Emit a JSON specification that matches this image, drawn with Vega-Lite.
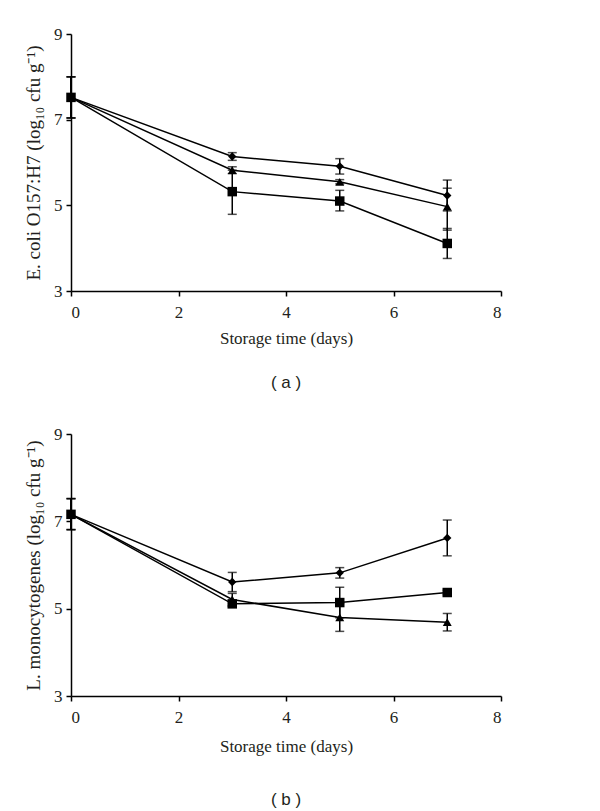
{
  "$schema": "https://vega.github.io/schema/vega-lite/v6.json",
  "background": "white",
  "padding": {"left": 24, "top": 25, "right": 10, "bottom": 5},
  "spacing": 34,
  "data": {
    "values": [
      {"panel": "a", "series": "D", "day": 0, "value": 7.52, "lo": 7.04, "hi": 8.0},
      {"panel": "a", "series": "D", "day": 3, "value": 6.14, "lo": 6.05, "hi": 6.23},
      {"panel": "a", "series": "D", "day": 5, "value": 5.91, "lo": 5.73, "hi": 6.09},
      {"panel": "a", "series": "D", "day": 7, "value": 5.23, "lo": 4.87, "hi": 5.59},
      {"panel": "a", "series": "T", "day": 0, "value": 7.52, "lo": 7.04, "hi": 8.0},
      {"panel": "a", "series": "T", "day": 3, "value": 5.82, "lo": 5.74, "hi": 5.9},
      {"panel": "a", "series": "T", "day": 5, "value": 5.55, "lo": 5.5, "hi": 5.6},
      {"panel": "a", "series": "T", "day": 7, "value": 4.97, "lo": 4.42, "hi": 5.4},
      {"panel": "a", "series": "S", "day": 0, "value": 7.52, "lo": 7.04, "hi": 8.0},
      {"panel": "a", "series": "S", "day": 3, "value": 5.32, "lo": 4.79, "hi": 5.82},
      {"panel": "a", "series": "S", "day": 5, "value": 5.1, "lo": 4.87, "hi": 5.35},
      {"panel": "a", "series": "S", "day": 7, "value": 4.11, "lo": 3.76, "hi": 4.46},
      {"panel": "b", "series": "D", "day": 0, "value": 7.16, "lo": 6.81, "hi": 7.52},
      {"panel": "b", "series": "D", "day": 3, "value": 5.61, "lo": 5.39, "hi": 5.83},
      {"panel": "b", "series": "D", "day": 5, "value": 5.82, "lo": 5.7, "hi": 5.94},
      {"panel": "b", "series": "D", "day": 7, "value": 6.62, "lo": 6.21, "hi": 7.03},
      {"panel": "b", "series": "T", "day": 0, "value": 7.16, "lo": 6.81, "hi": 7.52},
      {"panel": "b", "series": "T", "day": 3, "value": 5.21, "lo": 5.07, "hi": 5.35},
      {"panel": "b", "series": "T", "day": 5, "value": 4.8, "lo": 4.48, "hi": 5.12},
      {"panel": "b", "series": "T", "day": 7, "value": 4.69, "lo": 4.49, "hi": 4.89},
      {"panel": "b", "series": "S", "day": 0, "value": 7.16, "lo": 6.81, "hi": 7.52},
      {"panel": "b", "series": "S", "day": 3, "value": 5.11, "lo": 5.05, "hi": 5.17},
      {"panel": "b", "series": "S", "day": 5, "value": 5.14, "lo": 4.79, "hi": 5.49},
      {"panel": "b", "series": "S", "day": 7, "value": 5.37, "lo": 5.32, "hi": 5.42}
    ]
  },
  "vconcat": [
    {
      "width": 430,
      "height": 257,
      "transform": [{"filter": "datum.panel == 'a'"}],
      "title": {"text": "( a )", "orient": "bottom", "offset": 29},
      "encoding": {
        "x": {"field": "day", "type": "quantitative", "scale": {"domain": [0, 8]}, "axis": {"values": [0, 2, 4, 6, 8], "title": "Storage time (days)", "labelPadding": 8}}
      },
      "layer": [
        {"mark": {"type": "rule", "color": "black", "strokeWidth": 1.5}, "encoding": {"y": {"field": "lo", "type": "quantitative", "scale": {"domain": [3, 9]}, "axis": {"values": [3, 5, 7, 9], "title": "E. coli O157:H7 (log₁₀ cfu g⁻¹)", "titleFontSize": 19}}, "y2": {"field": "hi"}, "detail": {"field": "series"}}},
        {"mark": {"type": "tick", "orient": "horizontal", "color": "black", "size": 9, "thickness": 1.5}, "encoding": {"y": {"field": "lo", "type": "quantitative"}, "detail": {"field": "series"}}},
        {"mark": {"type": "tick", "orient": "horizontal", "color": "black", "size": 9, "thickness": 1.5}, "encoding": {"y": {"field": "hi", "type": "quantitative"}, "detail": {"field": "series"}}},
        {"mark": {"type": "line", "color": "black", "strokeWidth": 1.5}, "encoding": {"y": {"field": "value", "type": "quantitative"}, "detail": {"field": "series"}}},
        {"mark": {"type": "point", "filled": true, "color": "black", "opacity": 1}, "encoding": {"y": {"field": "value", "type": "quantitative"}, "shape": {"field": "series", "type": "nominal", "scale": {"domain": ["D", "T", "S"], "range": ["diamond", "triangle-up", "square"]}, "legend": null}, "size": {"field": "series", "type": "nominal", "scale": {"domain": ["D", "T", "S"], "range": [70, 90, 120]}, "legend": null}}}
      ]
    },
    {
      "width": 430,
      "height": 262,
      "transform": [{"filter": "datum.panel == 'b'"}],
      "title": {"text": "( b )", "orient": "bottom", "offset": 38},
      "encoding": {
        "x": {"field": "day", "type": "quantitative", "scale": {"domain": [0, 8]}, "axis": {"values": [0, 2, 4, 6, 8], "title": "Storage time (days)", "labelPadding": 8, "titlePadding": 13}}
      },
      "layer": [
        {"mark": {"type": "rule", "color": "black", "strokeWidth": 1.5}, "encoding": {"y": {"field": "lo", "type": "quantitative", "scale": {"domain": [3, 9]}, "axis": {"values": [3, 5, 7, 9], "title": "L. monocytogenes (log₁₀ cfu g⁻¹)", "titleFontSize": 19}}, "y2": {"field": "hi"}, "detail": {"field": "series"}}},
        {"mark": {"type": "tick", "orient": "horizontal", "color": "black", "size": 9, "thickness": 1.5}, "encoding": {"y": {"field": "lo", "type": "quantitative"}, "detail": {"field": "series"}}},
        {"mark": {"type": "tick", "orient": "horizontal", "color": "black", "size": 9, "thickness": 1.5}, "encoding": {"y": {"field": "hi", "type": "quantitative"}, "detail": {"field": "series"}}},
        {"mark": {"type": "line", "color": "black", "strokeWidth": 1.5}, "encoding": {"y": {"field": "value", "type": "quantitative"}, "detail": {"field": "series"}}},
        {"mark": {"type": "point", "filled": true, "color": "black", "opacity": 1}, "encoding": {"y": {"field": "value", "type": "quantitative"}, "shape": {"field": "series", "type": "nominal", "scale": {"domain": ["D", "T", "S"], "range": ["diamond", "triangle-up", "square"]}, "legend": null}, "size": {"field": "series", "type": "nominal", "scale": {"domain": ["D", "T", "S"], "range": [70, 90, 120]}, "legend": null}}}
      ]
    }
  ],
  "config": {
    "view": {"stroke": null},
    "axis": {
      "grid": false,
      "domainColor": "black",
      "domainWidth": 1.5,
      "tickColor": "black",
      "tickWidth": 1.5,
      "tickSize": 5,
      "labelFont": "Liberation Serif",
      "labelFontSize": 17,
      "labelColor": "#231f20",
      "labelPadding": 4,
      "titleFont": "Liberation Serif",
      "titleFontSize": 17,
      "titleFontWeight": "normal",
      "titleColor": "#231f20",
      "titlePadding": 10
    },
    "title": {"font": "Liberation Sans", "fontSize": 17, "fontWeight": "normal", "color": "#231f20", "anchor": "middle"}
  }
}
